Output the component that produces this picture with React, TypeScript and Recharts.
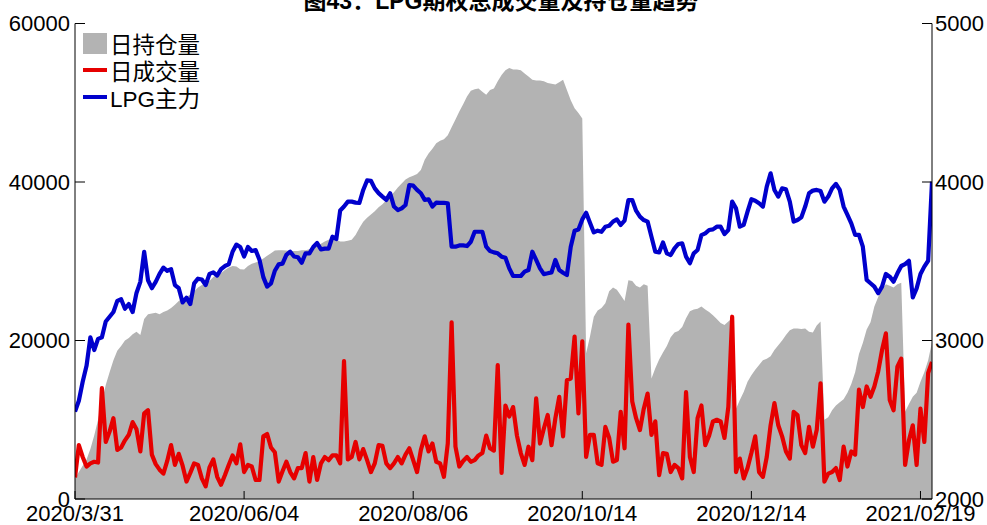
import { Area, ComposedChart, Legend, Line, XAxis, YAxis } from "recharts"

const FONT = '"Liberation Sans", Arial, "Noto Sans CJK SC", sans-serif'

const TITLE = "图43：LPG期权总成交量及持仓量趋势"

// trading-day index of each labelled date
const TICK_IDX = [0, 44, 88, 132, 176, 220]
const TICK_LABELS = ["2020/3/31", "2020/06/04", "2020/08/06", "2020/10/14", "2020/12/14", "2021/02/19"]

const LEFT_TICKS = [0, 20000, 40000, 60000]
const RIGHT_TICKS = [2000, 3000, 4000, 5000]

// 日持仓量 (left axis)
const HOLD = [
  2600, 3400, 4200, 5000, 6300, 8000, 10000, 12300, 14400, 16000,
  17500, 18700, 19300, 20000, 20300, 20800, 21100, 20700, 22700, 23300,
  23400, 23500, 23300, 23600, 23800, 24100, 24500, 25000, 25300, 25500,
  25800, 26200, 26700, 27000, 27200, 27500, 28000, 28300, 28500, 28900,
  29200, 29400, 29350, 29000, 28950, 29400, 29700, 29850, 30000, 30350,
  30700, 31000, 31350, 31400, 31400, 31350, 31300, 31300, 31300, 31400,
  31400, 31500, 31600, 32000, 32200, 32500, 32700, 32900, 32700, 32500,
  32500, 32600, 32700, 33300, 34200, 35000, 35500, 35900, 36300, 36800,
  37200, 37700, 38200, 38700, 39300, 39800, 40300, 40600, 40800, 41000,
  41500, 42800, 43600, 44200, 44900, 45200, 45400, 45900, 46900, 47900,
  48900, 49800, 50800, 51500, 51700, 51800, 51400, 51000, 51600, 51800,
  52700, 53500, 54100, 54400, 54200, 54200, 54100, 53700, 53300, 52900,
  52800, 52800, 52700, 52500, 52400, 52300, 52600, 52900, 51600, 50300,
  49300, 48700, 48000, 18400, 20500, 23000, 23800, 24100, 24700, 26200,
  26700, 26400, 25700, 25000, 27600, 27500, 26900, 26700, 27100, 26900,
  15200, 16500, 17600, 18500, 19300, 20400, 21000, 21200, 21700, 22800,
  23700, 23900, 24000, 24300, 23900, 23600, 23200, 22700, 22200, 21950,
  22400, 22800, 11400, 12500, 13500, 14800, 15600, 16300, 16900, 17500,
  17700, 18000, 18800, 19400, 20000, 20700, 21300, 21500, 21500, 21450,
  21500, 21100, 21000, 21900, 22400, 10000, 10300, 11200, 11800, 12200,
  12600, 13400, 14500, 16000, 18300, 19700, 21400, 22300, 24300, 25500,
  26500, 27100, 26900, 26700, 27100, 27300, 11000, 12000, 12900, 13400,
  14800, 16000, 17500, 19800,
]

// 日成交量 (left axis)
const VOLUME = [
  2700, 6800, 5300, 4100, 4500, 4700, 4600, 14000, 7200, 8500,
  10200, 6200, 6500, 7400, 8100, 9700, 8800, 6000, 10800, 11200,
  5600, 4400, 3700, 3200, 4800, 6800, 4300, 5700, 4200, 2200,
  3300, 4500, 4300, 2600, 1600, 4000, 5000, 2800, 1800, 3000,
  4300, 5500, 4500, 6900, 3400, 4300, 4100, 2400, 2400, 7900,
  8200, 6500, 5900, 2200, 3500, 4700, 3400, 2600, 3900, 3900,
  5800, 2200, 5300, 2400, 4500, 5300, 4900, 5500, 5500, 4500,
  17400, 5000, 5300, 7200, 5000, 6300, 4900, 3400, 4500, 6800,
  6700, 4500, 3900, 4500, 5300, 4500, 5600, 6400, 4900, 3400,
  6200, 7900, 6000, 7000, 4700, 4500, 2800, 7000, 22300, 6600,
  4100, 4800, 5300, 4700, 4900, 5500, 5800, 8000, 6400, 6100,
  16900, 3300, 11800, 10400, 11600, 8000, 5800, 4300, 6600, 4900,
  12700, 7000, 8900, 10600, 6800, 10200, 12900, 7900, 15000, 15200,
  20500, 10800, 19900, 5300, 8100, 8100, 4500, 4300, 9100, 7700,
  4700, 4900, 11000, 6400, 22000, 12300, 10200, 8700, 11400, 13300,
  8100, 9800, 3000, 5800, 5700, 3400, 4300, 3900, 2600, 13500,
  5300, 3400, 10200, 11800, 6800, 8000, 9800, 10000, 9800, 7700,
  11600, 23000, 3400, 5100, 2600, 3900, 5800, 7900, 3400, 2800,
  5300, 9300, 12100, 9300, 7900, 6000, 5100, 11000, 10600, 6800,
  5800, 9100, 6600, 8700, 14600, 2200, 3200, 3400, 3900, 2400,
  6600, 4100, 6000, 5600, 13800, 11600, 14200, 12900, 14200, 16100,
  18800, 20900, 12500, 11200, 16700, 17700, 4300, 7400, 9300, 4300,
  11400, 7200, 15900, 17300,
]

// LPG主力 (right axis)
const PRICE = [
  2551, 2620, 2740, 2840, 3020, 2940, 3010, 3020, 3120, 3150,
  3180, 3250, 3260, 3200, 3230, 3180, 3300, 3370, 3560, 3380,
  3330, 3370, 3420, 3460, 3440, 3450, 3350, 3330, 3240, 3270,
  3230, 3360, 3390, 3385, 3350, 3420, 3430, 3410, 3450, 3470,
  3480, 3560, 3605, 3590, 3530, 3590, 3565, 3570, 3510, 3400,
  3340, 3360, 3440, 3480, 3485, 3540, 3560, 3530, 3525, 3490,
  3550, 3550, 3590, 3615, 3575, 3580, 3580, 3655, 3640, 3820,
  3845, 3876, 3876, 3870, 3868, 3950, 4010, 4008, 3960, 3930,
  3908, 3887, 3929, 3845, 3823, 3834, 3855, 3981, 3977, 3950,
  3929, 3887, 3891, 3845, 3870, 3868, 3868, 3866, 3592, 3592,
  3600, 3600, 3596, 3623, 3686, 3686, 3686, 3592, 3564, 3556,
  3550, 3529, 3522, 3455, 3407, 3407, 3407, 3434, 3445, 3560,
  3508, 3455, 3419, 3424, 3430, 3508, 3445, 3428, 3413, 3592,
  3693, 3701, 3764, 3806, 3743, 3682, 3693, 3686, 3718, 3724,
  3750, 3764, 3729, 3756, 3886, 3886, 3819, 3781, 3760, 3750,
  3655, 3560, 3556, 3619, 3550, 3539, 3581, 3609, 3613, 3529,
  3487, 3550, 3571, 3665, 3676, 3697, 3701, 3718, 3718, 3671,
  3697, 3876, 3834, 3718, 3729, 3813, 3891, 3882, 3866, 3845,
  3971, 4055, 3950, 3908, 3960, 3954, 3876, 3750, 3760, 3777,
  3845, 3929, 3946, 3950, 3943, 3876, 3908, 3960, 3988, 3950,
  3845, 3792, 3739, 3666, 3666, 3592, 3382, 3361, 3340, 3298,
  3340, 3420, 3403, 3371, 3424, 3470, 3482, 3503, 3272, 3329,
  3420, 3466, 3503, 4002,
]

const GRAY = "#b3b3b3"
const RED = "#e60000"
const BLUE = "#0000cc"

const LEGEND = [
  { label: "日持仓量", color: GRAY, kind: "area" },
  { label: "日成交量", color: RED, kind: "line" },
  { label: "LPG主力", color: BLUE, kind: "line" },
]

const data = HOLD.map((hold, idx) => ({ idx, hold, volume: VOLUME[idx], price: PRICE[idx] }))

const tickText = { fontSize: 22, fontFamily: FONT, fill: "#000" }

function LeftTick({ x, y, payload }: any) {
  return (
    <g>
      <line x1={x + 5} x2={x + 15} y1={y} y2={y} stroke="#000" />
      <text x={x} y={y} dy="0.36em" textAnchor="end" {...tickText}>{payload.value}</text>
    </g>
  )
}

function RightTick({ x, y, payload }: any) {
  return (
    <g>
      <line x1={x - 3} x2={x - 13} y1={y} y2={y} stroke="#000" />
      <text x={x} y={y} dy="0.36em" textAnchor="start" {...tickText}>{payload.value}</text>
    </g>
  )
}

function BottomTick({ x, y, payload }: any) {
  const label = TICK_LABELS[TICK_IDX.indexOf(payload.value)]
  return (
    <g>
      <line x1={x} x2={x} y1={y} y2={y - 8} stroke="#000" />
      <text x={x} y={y + 22} textAnchor="middle" {...tickText}>{label}</text>
    </g>
  )
}

function TopTick({ x, y }: any) {
  return <line x1={x} x2={x} y1={y} y2={y + 8} stroke="#000" />
}

function LegendBox() {
  return (
    <div style={{ fontFamily: FONT, fontSize: 22.5, color: "#000" }}>
      {LEGEND.map(item => (
        <div key={item.label} style={{ display: "flex", alignItems: "center", height: 27 }}>
          <span
            style={{
              display: "inline-block",
              width: 24,
              height: item.kind === "area" ? 21 : 4,
              background: item.color,
              marginRight: 3,
            }}
          />
          <span style={{ whiteSpace: "nowrap" }}>{item.label}</span>
        </div>
      ))}
    </div>
  )
}

export default function App() {
  return (
    <div style={{ position: "relative", width: 987, height: 525, overflow: "hidden", background: "#fff" }}>
      <style>{"body{margin:0}"}</style>
      <ComposedChart width={987} height={525} data={data} margin={{ top: 23.5, right: 0, bottom: 0, left: 0 }}>
        <XAxis
          dataKey="idx"
          type="number"
          domain={[0, HOLD.length - 1]}
          ticks={TICK_IDX}
          height={26}
          tickSize={0}
          tickMargin={0}
          tickLine={false}
          axisLine={{ stroke: "#000" }}
          tick={<BottomTick />}
          interval={0}
          allowDataOverflow
        />
        <XAxis
          xAxisId="top"
          orientation="top"
          dataKey="idx"
          type="number"
          domain={[0, HOLD.length - 1]}
          ticks={TICK_IDX}
          height={0}
          tickSize={0}
          tickMargin={0}
          tickLine={false}
          axisLine={{ stroke: "#000" }}
          tick={<TopTick />}
          interval={0}
          allowDataOverflow
        />
        <YAxis
          yAxisId="left"
          domain={[0, 60000]}
          ticks={LEFT_TICKS}
          width={75}
          tickSize={0}
          tickMargin={5}
          tickLine={false}
          axisLine={{ stroke: "#000" }}
          tick={<LeftTick />}
          interval={0}
          allowDataOverflow
        />
        <YAxis
          yAxisId="right"
          orientation="right"
          domain={[2000, 5000]}
          ticks={RIGHT_TICKS}
          width={55}
          tickSize={0}
          tickMargin={3}
          tickLine={false}
          axisLine={{ stroke: "#000" }}
          tick={<RightTick />}
          interval={0}
          allowDataOverflow
        />
        <Area
          yAxisId="left"
          dataKey="hold"
          type="linear"
          fill={GRAY}
          fillOpacity={1}
          stroke="none"
          isAnimationActive={false}
        />
        <Line
          yAxisId="left"
          dataKey="volume"
          type="linear"
          stroke={RED}
          strokeWidth={4.2}
          strokeLinejoin="round"
          dot={false}
          activeDot={false}
          isAnimationActive={false}
        />
        <Line
          yAxisId="right"
          dataKey="price"
          type="linear"
          stroke={BLUE}
          strokeWidth={4.2}
          strokeLinejoin="round"
          dot={false}
          activeDot={false}
          isAnimationActive={false}
        />
        <Legend
          layout="vertical"
          verticalAlign="middle"
          align="center"
          content={<LegendBox />}
          wrapperStyle={{ left: 83, top: 29.5, width: 140 }}
        />
      </ComposedChart>
      <svg width={987} height={20} style={{ position: "absolute", left: 0, top: 0 }}>
        <text x={501} y={9} textAnchor="middle" fontSize={23} fontWeight="bold" fontFamily={FONT} fill="#000">
          {TITLE}
        </text>
      </svg>
    </div>
  )
}
